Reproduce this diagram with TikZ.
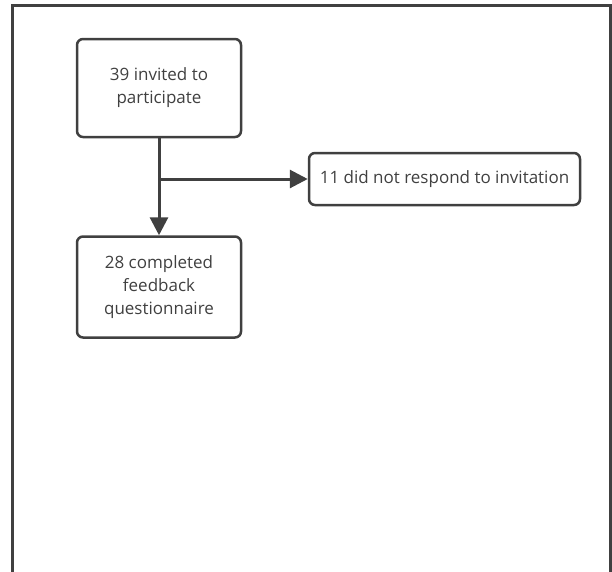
\documentclass[tikz,border=0pt]{standalone}
\usepackage{fontspec}
\setmainfont{Open Sans}
\usetikzlibrary{arrows.meta}
\definecolor{ink}{HTML}{404040}
\begin{document}
\begin{tikzpicture}[x=1pt,y=-1pt,
  flowbox/.style={draw=ink,line width=2.5pt,rounded corners=6pt,text=ink,align=center,inner sep=0pt,font=\fontsize{17}{23}\selectfont},
  conn/.style={draw=ink,line width=3pt},
  tip/.style={-{Triangle[length=18pt,width=18pt]}}]
\useasboundingbox (0,0) rectangle (612,571);
\clip (0,0) rectangle (612,571);
\draw[draw=ink,line width=3pt] (12,580) -- (12,5.5) -- (610,5.5) -- (610,580);
\node[flowbox,minimum width=164pt,minimum height=98pt] (a) at (159,88) {39 invited to\\participate};
\node[flowbox,minimum width=271pt,minimum height=52pt] (b) at (444.5,179) {11 did not respond to invitation};
\node[flowbox,minimum width=164pt,minimum height=101pt] (c) at (159,287) {28 completed\\feedback\\questionnaire};
\coordinate (j) at (a.south |- b.west);
\draw[conn,tip] (a.south) -- (c.north);
\draw[conn,tip] (j) -- (b.west);
\end{tikzpicture}
\end{document}
